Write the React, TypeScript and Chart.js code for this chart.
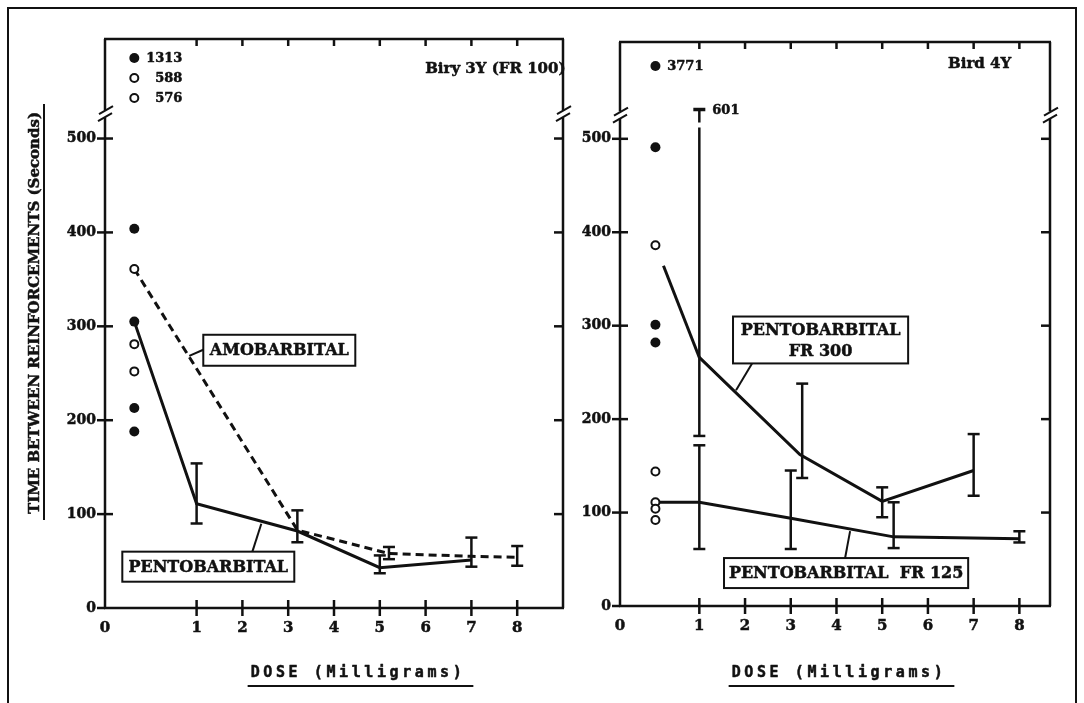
import { useEffect, useRef } from 'react';
import { Chart, registerables } from 'chart.js';

Chart.register(...registerables);

const W = 1084;
const H = 703;
const INK = '#111';
const SERIF = '"DejaVu Serif", "Liberation Serif", serif';
const MONO = '"DejaVu Sans Mono", "Liberation Mono", monospace';

// Axis ticks shared by both panels
const doseTicks = [1, 2, 3, 4, 5, 6, 7, 8];
const timeTicks = [0, 100, 200, 300, 400, 500];

// ---- Bird 3Y (FR 100) ----
// control sessions, plotted in the column left of dose 1
const b3ControlFilled = [404, 305, 213, 188];
const b3ControlOpen = [361, 281, 252];
const b3OffScale = [1313, 588, 576];
const b3OffScaleFilled = [true, false, false];

// pentobarbital
const b3PentoControl = 305;
const b3PentoDose = [1, 3.2, 5, 7];
const b3PentoTime = [111, 82, 43, 51];
const b3PentoLow = [90, 70, 37, 44];
const b3PentoHigh = [154, 104, 56, 75];

// amobarbital
const b3AmoControl = 361;
const b3AmoDose = [3.2, 5.2, 7, 8];
const b3AmoTime = [83, 58, 55, 54];
const b3AmoBarDose = [5.2, 8];
const b3AmoLow = [52, 45];
const b3AmoHigh = [65, 66];

// ---- Bird 4Y ----
const b4ControlFilled = [491, 301, 282];
const b4ControlOpen = [386, 144, 111, 104, 92];
const b4OffScale = [3771];
const b4OffScaleFilled = [true];

// pentobarbital FR 300
const b4Fr300Control = 386;
const b4Fr300Dose = [1, 3.2, 5, 7];
const b4Fr300Time = [266, 162, 112, 145];
const b4Fr300BarDose = [1, 3.25, 5, 7];
const b4Fr300Low = [182, 137, 95, 118];
const b4Fr300High = [601, 238, 127, 184];

// pentobarbital FR 125
const b4Fr125Control = 111;
const b4Fr125Dose = [1, 3, 5.25, 8];
const b4Fr125Time = [111, 94, 74, 72];
const b4Fr125Low = [61, 61, 62, 68];
const b4Fr125High = [172, 145, 111, 80];

type Series = { control: number; dose: number[]; time: number[]; dashed?: boolean; startGap?: number };
type Bars = { dose: number[]; low: number[]; high: number[] };
type Callout = { lines: string[]; x0: number; x1: number; yTop: number; yBottom: number; from: [number, number]; to: [number, number] };
type Panel = {
  id: string;
  area: { left: number; top: number; right: number; bottom: number };
  xMin: number;
  xMax: number;
  yMax: number;
  breakAt: number;
  controlSlot: number;
  controlFilled: number[];
  controlOpen: number[];
  offScale: number[];
  offScaleFilled: boolean[];
  offScaleTop: number;
  series: Series[];
  bars: Bars[];
  callouts: Callout[];
  title: string;
  titleX: number;
  titleY: number;
  doseTitleShift: number;
  withYTitle?: boolean;
  withFrame?: boolean;
};

const bird3: Panel = {
  id: 'bird3',
  area: { left: 105, top: 39, right: 563, bottom: 608 },
  xMin: -1,
  xMax: 9,
  yMax: 606,
  breakAt: 527,
  controlSlot: -0.36,
  controlFilled: b3ControlFilled,
  controlOpen: b3ControlOpen,
  offScale: b3OffScale,
  offScaleFilled: b3OffScaleFilled,
  offScaleTop: 19,
  series: [
    { control: b3PentoControl, dose: b3PentoDose, time: b3PentoTime },
    { control: b3AmoControl, dose: b3AmoDose, time: b3AmoTime, dashed: true },
  ],
  bars: [
    { dose: b3PentoDose, low: b3PentoLow, high: b3PentoHigh },
    { dose: b3AmoBarDose, low: b3AmoLow, high: b3AmoHigh },
  ],
  callouts: [
    { lines: ['AMOBARBITAL'], x0: 1.146, x1: 4.465, yTop: 291, yBottom: 258, from: [1.146, 275], to: [0.84, 268.6] },
    { lines: ['PENTOBARBITAL'], x0: -0.622, x1: 3.133, yTop: 60, yBottom: 28, from: [2.218, 60], to: [2.413, 89.8] },
  ],
  title: 'Biry 3Y (FR 100)',
  titleX: 5.99,
  titleY: 574,
  doseTitleShift: 24,
  withYTitle: true,
  withFrame: true,
};

const bird4: Panel = {
  id: 'bird4',
  area: { left: 620, top: 42, right: 1050, bottom: 606 },
  xMin: -0.735,
  xMax: 8.67,
  yMax: 603.6,
  breakAt: 526,
  controlSlot: 0.04,
  controlFilled: b4ControlFilled,
  controlOpen: b4ControlOpen,
  offScale: b4OffScale,
  offScaleFilled: b4OffScaleFilled,
  offScaleTop: 24,
  series: [
    { control: b4Fr300Control, dose: b4Fr300Dose, time: b4Fr300Time, startGap: 22 },
    { control: b4Fr125Control, dose: b4Fr125Dose, time: b4Fr125Time },
  ],
  bars: [
    { dose: b4Fr300BarDose, low: b4Fr300Low, high: b4Fr300High },
    { dose: b4Fr125Dose, low: b4Fr125Low, high: b4Fr125High },
  ],
  callouts: [
    { lines: ['PENTOBARBITAL', 'FR 300'], x0: 1.737, x1: 5.567, yTop: 309.8, yBottom: 259.6, from: [2.153, 259.6], to: [1.803, 231] },
    { lines: ['PENTOBARBITAL  FR 125'], x0: 1.54, x1: 6.88, yTop: 51.3, yBottom: 19.2, from: [4.188, 51.3], to: [4.298, 80.1] },
  ],
  title: 'Bird 4Y',
  titleX: 6.44,
  titleY: 580,
  doseTitleShift: 4,
};

const Y_BOX = 60;
const X_BOX = 40;

function seg(ctx: CanvasRenderingContext2D, x1: number, y1: number, x2: number, y2: number) {
  ctx.beginPath();
  ctx.moveTo(x1, y1);
  ctx.lineTo(x2, y2);
  ctx.stroke();
}

// bold text with a faint outline so it reads as heavy print
function heavyText(ctx: CanvasRenderingContext2D, text: string, x: number, y: number) {
  ctx.save();
  ctx.lineWidth = 0.5;
  ctx.lineJoin = 'round';
  ctx.strokeText(text, x, y);
  ctx.fillText(text, x, y);
  ctx.restore();
}

function decorations(p: Panel) {
  return {
    id: 'decor-' + p.id,
    afterDatasetsDraw(chart: any) {
      const { ctx, chartArea: a } = chart;
      const xs = chart.scales.x;
      const ys = chart.scales.y;
      const X = (v: number) => xs.getPixelForValue(v);
      const Y = (v: number) => ys.getPixelForValue(v);
      const breakY = Y(p.breakAt);
      ctx.save();
      ctx.strokeStyle = INK;
      ctx.fillStyle = INK;
      ctx.lineCap = 'butt';

      // panel frame with broken vertical axes
      ctx.lineWidth = 2.5;
      seg(ctx, a.left - 1, a.top, a.right + 1, a.top);
      seg(ctx, a.left - 1, a.bottom, a.right + 1, a.bottom);
      for (const bx of [a.left, a.right]) {
        seg(ctx, bx, a.top, bx, breakY - 3);
        seg(ctx, bx, breakY + 4, bx, a.bottom);
        ctx.lineWidth = 2;
        seg(ctx, bx - 6, breakY + 1, bx + 8, breakY - 7);
        seg(ctx, bx - 7, breakY + 8, bx + 7, breakY);
        ctx.lineWidth = 2.5;
      }

      // tick marks
      for (const t of timeTicks) {
        seg(ctx, a.left - 8, Y(t), a.left + (t === 0 ? 0 : 8), Y(t));
        if (t > 0) seg(ctx, a.right - 9, Y(t), a.right, Y(t));
      }
      for (const d of doseTicks) {
        seg(ctx, X(d), a.bottom - 8, X(d), a.bottom + 8);
        seg(ctx, X(d), a.top, X(d), a.top + 7);
      }

      // error bars
      ctx.lineWidth = 2.5;
      for (const b of p.bars) {
        b.dose.forEach((d, i) => {
          const x = X(d);
          const lo = Y(b.low[i]);
          seg(ctx, x - 6, lo, x + 6, lo);
          if (b.high[i] > p.breakAt) {
            seg(ctx, x, lo, x, breakY + 13);
            seg(ctx, x, breakY + 8, x, breakY - 5);
            ctx.lineWidth = 3.5;
            seg(ctx, x - 6, breakY - 5, x + 6, breakY - 5);
            ctx.lineWidth = 2.5;
            ctx.font = `bold 13px ${SERIF}`;
            ctx.textAlign = 'left';
            ctx.textBaseline = 'middle';
            heavyText(ctx, String(b.high[i]), x + 13, breakY - 4);
          } else {
            const hi = Y(b.high[i]);
            seg(ctx, x, lo, x, hi);
            seg(ctx, x - 6, hi, x + 6, hi);
          }
        });
      }

      // values beyond the axis break, listed above it
      const cx = X(p.controlSlot);
      ctx.font = `bold 13px ${SERIF}`;
      ctx.textAlign = 'right';
      ctx.textBaseline = 'middle';
      p.offScale.forEach((v, i) => {
        const ry = a.top + p.offScaleTop + i * 20;
        ctx.beginPath();
        if (p.offScaleFilled[i]) {
          ctx.arc(cx, ry, 5, 0, Math.PI * 2);
          ctx.fill();
        } else {
          ctx.lineWidth = 2;
          ctx.arc(cx, ry, 4, 0, Math.PI * 2);
          ctx.stroke();
        }
        heavyText(ctx, String(v), cx + 48, ry + 1);
      });

      // labelled callout boxes
      for (const c of p.callouts) {
        const x0 = X(c.x0);
        const x1 = X(c.x1);
        const y0 = Y(c.yTop);
        const y1 = Y(c.yBottom);
        ctx.lineWidth = 2;
        ctx.fillStyle = '#fff';
        ctx.fillRect(x0, y0, x1 - x0, y1 - y0);
        ctx.strokeRect(x0, y0, x1 - x0, y1 - y0);
        seg(ctx, X(c.from[0]), Y(c.from[1]), X(c.to[0]), Y(c.to[1]));
        ctx.fillStyle = INK;
        ctx.font = `bold 16px ${SERIF}`;
        ctx.textAlign = 'center';
        ctx.textBaseline = 'middle';
        const mid = (y0 + y1) / 2;
        const n = c.lines.length;
        c.lines.forEach((ln, i) => {
          heavyText(ctx, ln, (x0 + x1) / 2, mid + (i - (n - 1) / 2) * 21 + 1);
        });
      }

      // panel title
      ctx.font = `bold 15px ${SERIF}`;
      ctx.textAlign = 'left';
      ctx.textBaseline = 'middle';
      heavyText(ctx, p.title, X(p.titleX), Y(p.titleY));

      // dose axis title, underlined
      ctx.font = `bold 15px ${MONO}`;
      (ctx as any).letterSpacing = '3.6px';
      const doseLabel = 'DOSE (Milligrams)';
      const dw = ctx.measureText(doseLabel).width;
      const dcx = (a.left + a.right) / 2 + p.doseTitleShift;
      ctx.textAlign = 'left';
      heavyText(ctx, doseLabel, dcx - dw / 2, 673);
      (ctx as any).letterSpacing = '0px';
      ctx.lineWidth = 2;
      seg(ctx, dcx - dw / 2 - 3, 686, dcx + dw / 2 + 8, 686);

      if (p.withYTitle) {
        const label = 'TIME BETWEEN REINFORCEMENTS (Seconds)';
        ctx.save();
        ctx.translate(35, 313);
        ctx.rotate(-Math.PI / 2);
        ctx.font = `bold 15px ${SERIF}`;
        ctx.textAlign = 'center';
        ctx.textBaseline = 'middle';
        heavyText(ctx, label, 0, 0);
        const lw = ctx.measureText(label).width;
        ctx.lineWidth = 2;
        seg(ctx, -lw / 2 - 6, 9, lw / 2 + 8, 9);
        ctx.restore();
      }

      if (p.withFrame) {
        ctx.lineWidth = 2;
        ctx.strokeRect(8, 8, W - 16, H + 20);
      }
      ctx.restore();
    },
  };
}

function buildChart(canvas: HTMLCanvasElement, p: Panel) {
  const datasets: any[] = [
    {
      data: p.controlOpen.map((v) => ({ x: p.controlSlot, y: v })),
      showLine: false,
      pointRadius: 4,
      pointBorderWidth: 2,
      pointBackgroundColor: '#fff',
      pointBorderColor: INK,
    },
    {
      data: p.controlFilled.map((v) => ({ x: p.controlSlot, y: v })),
      showLine: false,
      pointRadius: 5,
      pointBorderWidth: 0,
      pointBackgroundColor: INK,
      pointBorderColor: INK,
    },
    ...p.series.map((s) => ({
      data: [{ x: p.controlSlot, y: s.control }, ...s.dose.map((d, i) => ({ x: d, y: s.time[i] }))],
      borderColor: INK,
      borderWidth: 3,
      borderDash: s.dashed ? [8, 5] : [],
      pointRadius: 0,
      tension: 0,
      fill: false,
      segment: s.startGap
        ? { borderDash: (c: any) => (c.p0DataIndex === 0 ? [0, s.startGap, 600, 0] : undefined) }
        : undefined,
    })),
  ];

  const tickFont = { family: SERIF, size: 14, weight: 'bold' as const };

  return new Chart(canvas, {
    type: 'line',
    data: { datasets },
    options: {
      responsive: false,
      animation: false,
      devicePixelRatio: 1,
      events: [],
      layout: {
        padding: {
          left: p.area.left - Y_BOX,
          top: p.area.top,
          right: W - p.area.right,
          bottom: H - p.area.bottom - X_BOX,
        },
      },
      plugins: { legend: { display: false }, tooltip: { enabled: false } },
      scales: {
        x: {
          type: 'linear',
          min: p.xMin,
          max: p.xMax,
          afterBuildTicks: (s: any) => {
            s.ticks = [{ value: p.xMin }, ...doseTicks.map((v) => ({ value: v }))];
          },
          afterFit: (s: any) => {
            s.height = X_BOX;
          },
          grid: { display: false, drawTicks: false },
          border: { display: false },
          ticks: {
            autoSkip: false,
            maxRotation: 0,
            padding: 11,
            color: INK,
            textStrokeColor: INK,
            textStrokeWidth: 0.5,
            font: { ...tickFont, size: 15 },
            callback: (v: any) => (v === p.xMin ? '0' : String(v)),
          },
        },
        y: {
          type: 'linear',
          min: 0,
          max: p.yMax,
          afterBuildTicks: (s: any) => {
            s.ticks = timeTicks.map((v) => ({ value: v }));
          },
          afterFit: (s: any) => {
            s.width = Y_BOX;
          },
          grid: { display: false, drawTicks: false },
          border: { display: false },
          ticks: { padding: 9, color: INK, textStrokeColor: INK, textStrokeWidth: 0.5, font: tickFont },
        },
      },
    },
    plugins: [decorations(p)],
  } as any);
}

export default function App() {
  const leftRef = useRef<HTMLCanvasElement>(null);
  const rightRef = useRef<HTMLCanvasElement>(null);

  useEffect(() => {
    const left = buildChart(leftRef.current!, bird3);
    const right = buildChart(rightRef.current!, bird4);
    return () => {
      left.destroy();
      right.destroy();
    };
  }, []);

  const layer: any = { position: 'absolute', left: 0, top: 0, width: W, height: H };
  return (
    <div style={{ position: 'fixed', left: 0, top: 0, width: W, height: H, background: '#fff', overflow: 'hidden' }}>
      <canvas ref={leftRef} width={W} height={H} style={layer} />
      <canvas ref={rightRef} width={W} height={H} style={layer} />
    </div>
  );
}
